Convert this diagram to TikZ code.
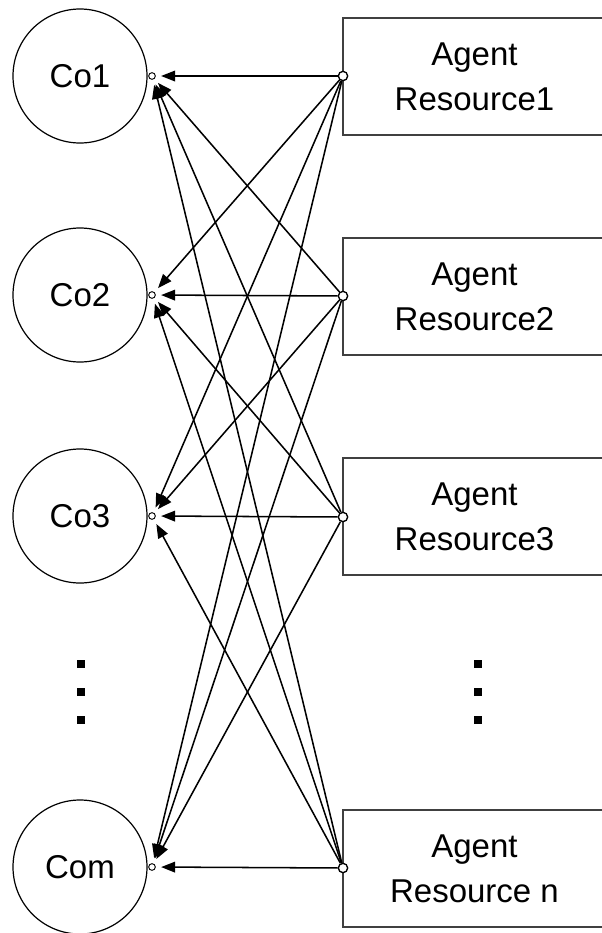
\documentclass[tikz,border=0pt]{standalone}
\usepackage{fontspec}
\setmainfont{Liberation Sans}
\usetikzlibrary{arrows.meta}
\newcommand{\labelfont}{\fontsize{24.75pt}{33.75pt}\selectfont}
\begin{document}
\begin{tikzpicture}[x=0.75pt,y=-0.75pt,
  agent/.style={draw=black!75, line width=1.4pt, minimum width=197.25pt,
    minimum height=87.75pt, align=center, inner sep=0pt, font=\labelfont},
  corp/.style={circle, draw, line width=0.9pt, minimum size=100.5pt,
    inner sep=0pt, font=\labelfont},
  port/.style={circle, draw, fill=white, line width=1pt, minimum size=7pt, inner sep=0pt},
  endpt/.style={circle, draw, fill=white, line width=0.7pt, minimum size=5pt, inner sep=0pt},
  link/.style={line width=1.15pt, -{Triangle[length=10.5pt,width=8pt]}, shorten >=4pt},
  dotmark/.style={fill, minimum size=6pt, inner sep=0pt}]
\useasboundingbox (0,0) rectangle (602,933);
\clip (0,0) rectangle (602,933);

% coordinator circles
\node[corp] (c1) at (80,76)  {Co1};
\node[corp] (c2) at (80,295) {Co2};
\node[corp] (c3) at (80,516) {Co3};
\node[corp] (c4) at (80,867) {Com};

% agent resource boxes (open to the right edge)
\node[agent] (b1) at (474.5,76.5)  {Agent\\Resource1};
\node[agent] (b2) at (474.5,296.5) {Agent\\Resource2};
\node[agent] (b3) at (474.5,516.5) {Agent\\Resource3};
\node[agent] (b4) at (474.5,868.5) {Agent\\Resource n};

% connection points
\foreach \k/\yy in {1/76,2/296,3/517,4/868}
  \node[port] (p\k) at (343,\yy) {};
\foreach \k/\yy in {1/76,2/295,3/516,4/867}
  \node[endpt] (t\k) at (152,\yy) {};

% every resource feeds every coordinator
\foreach \j in {1,...,4}
  \foreach \i in {1,...,4}
    \draw[link] (p\j) -- (t\i);

% ellipsis marks
\foreach \yy [count=\n] in {664,692,720} {
  \node[dotmark] (dl\n) at (81,\yy) {};
  \node[dotmark] (dr\n) at (478,\yy) {};
}
\end{tikzpicture}
\end{document}
